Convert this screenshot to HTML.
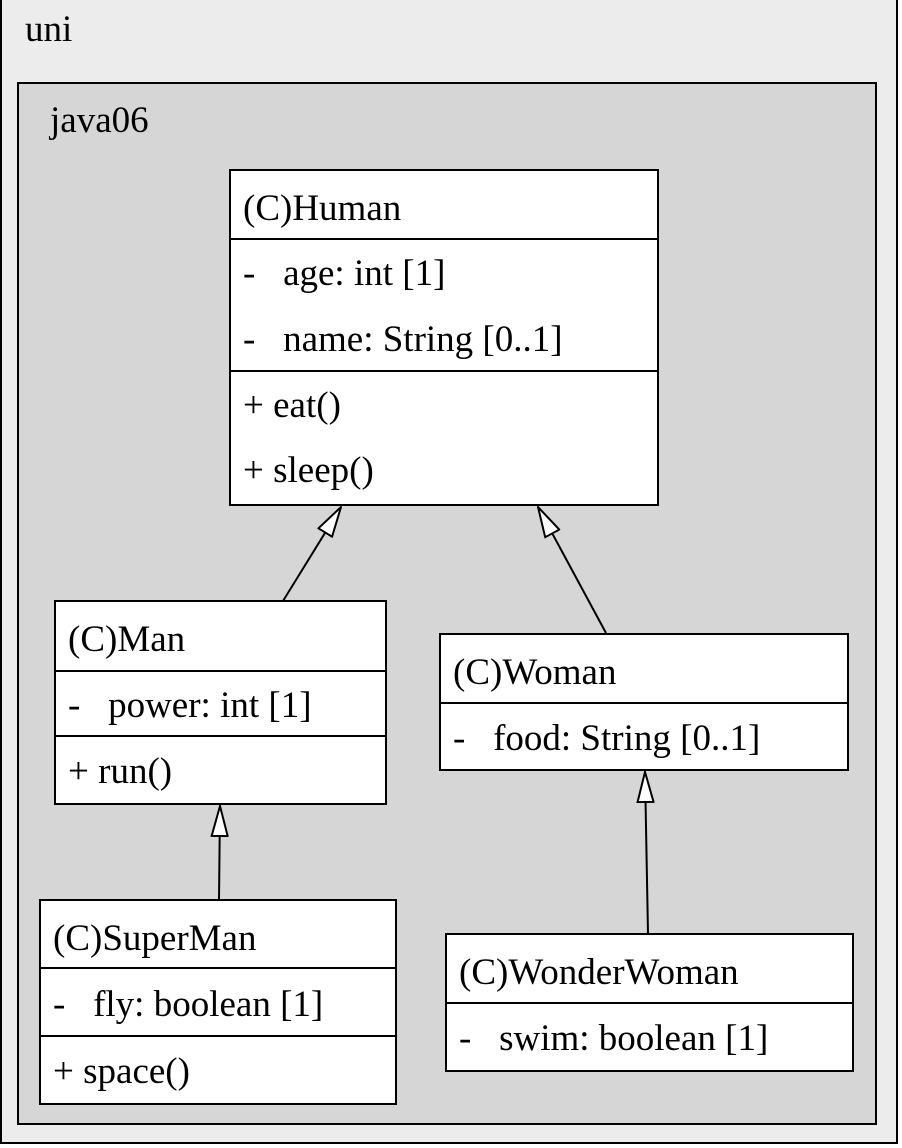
<!DOCTYPE html>
<html><head><style>
html,body{margin:0;padding:0;background:#fff;}
svg{display:block;}
text{font-family:"Liberation Serif",serif;font-size:37px;fill:#000;}
</style></head><body>
<svg width="902" height="1148" viewBox="0 0 902 1148" xmlns="http://www.w3.org/2000/svg">
<defs>
<marker id="tri" markerUnits="userSpaceOnUse" markerWidth="32" markerHeight="18" viewBox="-1 -1 32 18" refX="30" refY="8" orient="auto">
<path d="M0,0 L30,8 L0,16 Z" fill="#fff" stroke="#000" stroke-width="2"/>
</marker>
</defs>
<rect x="1" y="-5" width="896" height="1148" fill="#ececec" stroke="#000" stroke-width="2"/>
<text x="25" y="41">uni</text>
<rect x="18" y="83" width="858" height="1041" fill="#d6d6d6" stroke="#000" stroke-width="2"/>
<text x="50" y="132">java06</text>

<g stroke="#000" stroke-width="2">
<rect x="230" y="170" width="428" height="335" fill="#fff"/>
<line x1="230" y1="239" x2="658" y2="239"/>
<line x1="230" y1="371" x2="658" y2="371"/>
<rect x="55" y="601" width="331" height="203" fill="#fff"/>
<line x1="55" y1="671" x2="386" y2="671"/>
<line x1="55" y1="736" x2="386" y2="736"/>
<rect x="440" y="634" width="408" height="136" fill="#fff"/>
<line x1="440" y1="703" x2="848" y2="703"/>
<rect x="40" y="900" width="356" height="204" fill="#fff"/>
<line x1="40" y1="968" x2="396" y2="968"/>
<line x1="40" y1="1036" x2="396" y2="1036"/>
<rect x="446" y="934" width="407" height="137" fill="#fff"/>
<line x1="446" y1="1003" x2="853" y2="1003"/>

<line x1="283" y1="601" x2="341" y2="507" marker-end="url(#tri)"/>
<line x1="606" y1="633" x2="538" y2="507" marker-end="url(#tri)"/>
<line x1="219" y1="900" x2="220" y2="806" marker-end="url(#tri)"/>
<line x1="648" y1="934" x2="645" y2="772" marker-end="url(#tri)"/>
</g>

<text x="243" y="220">(C)Human</text>
<text x="243" y="285">-&#160;&#160;&#160;age: int [1]</text>
<text x="243" y="351">-&#160;&#160;&#160;name: String [0..1]</text>
<text x="243" y="417">+ eat()</text>
<text x="243" y="482">+ sleep()</text>

<text x="68" y="651">(C)Man</text>
<text x="68" y="717">-&#160;&#160;&#160;power: int [1]</text>
<text x="68" y="783">+ run()</text>

<text x="453" y="684">(C)Woman</text>
<text x="453" y="750">-&#160;&#160;&#160;food: String [0..1]</text>

<text x="53" y="950">(C)SuperMan</text>
<text x="53" y="1016">-&#160;&#160;&#160;fly: boolean [1]</text>
<text x="53" y="1083">+ space()</text>

<text x="459" y="984">(C)WonderWoman</text>
<text x="459" y="1050">-&#160;&#160;&#160;swim: boolean [1]</text>
</svg>
</body></html>
